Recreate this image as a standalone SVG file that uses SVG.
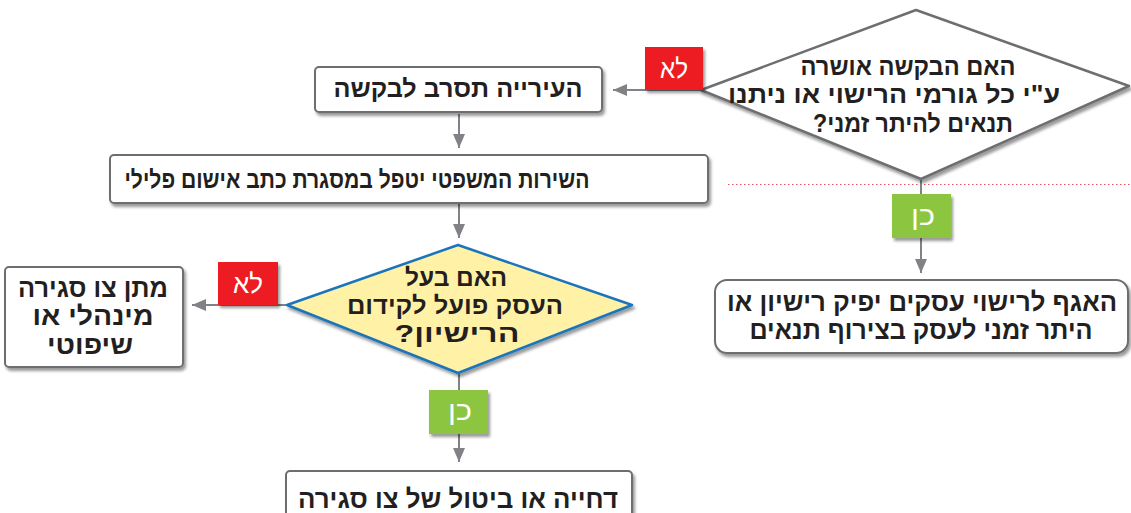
<svg xmlns="http://www.w3.org/2000/svg" width="1131" height="513" viewBox="0 0 1131 513">
<defs>
<filter id="sh" x="-10%" y="-10%" width="130%" height="150%">
<feDropShadow dx="2" dy="3" stdDeviation="1.6" flood-color="#000" flood-opacity="0.4"/>
</filter>
<marker id="arr" viewBox="0 0 14 12" refX="14" refY="6" markerWidth="14" markerHeight="12" markerUnits="userSpaceOnUse" orient="auto">
<path d="M0,0 L14,6 L0,12 z" fill="#808285"/>
</marker>
<style>
.box{fill:#fff;stroke:#6d6e71;stroke-width:2;}
.dia{fill:#fff;stroke:#6d6e71;stroke-width:2.5;stroke-linejoin:round;}
.ydia{fill:#fff2a6;stroke:#1b75bc;stroke-width:2.5;stroke-linejoin:round;}
.t{font-family:"Liberation Sans","DejaVu Sans",sans-serif;font-weight:bold;fill:#231f20;text-anchor:middle;font-size:25px;direction:rtl;}
.lt{font-family:"Liberation Sans","DejaVu Sans",sans-serif;fill:#fff;text-anchor:middle;font-size:27px;direction:rtl;}
.con{stroke:#808285;stroke-width:2;fill:none;marker-end:url(#arr);}
.red{fill:#ed1c24;}
.grn{fill:#8cc63f;}
</style>
</defs>
<line x1="728" y1="184.5" x2="1131" y2="184.5" stroke="#e2545c" stroke-width="1.2" stroke-dasharray="1.5,2.5"/>
<g id="connectors">
<line class="con" x1="701" y1="90" x2="613" y2="90"/>
<line class="con" x1="459" y1="114" x2="459" y2="148"/>
<line class="con" x1="459" y1="204" x2="459" y2="238"/>
<line class="con" x1="287" y1="305" x2="192" y2="305"/>
<line class="con" x1="459" y1="373" x2="459" y2="462"/>
<line class="con" x1="921" y1="179" x2="921" y2="273"/>
</g>
<g id="q1">
<polygon class="dia" filter="url(#sh)" points="916,10 1129,86 921,179 701,90"/>
<text class="t" x="908" y="75" textLength="215" lengthAdjust="spacingAndGlyphs">האם הבקשה אושרה</text>
<text class="t" x="894" y="103" textLength="332" lengthAdjust="spacingAndGlyphs">ע&quot;י כל גורמי הרישוי או ניתנו</text>
<text class="t" x="913" y="132" textLength="200" lengthAdjust="spacingAndGlyphs">תנאים להיתר זמני?</text>
</g>
<g id="refuse">
<rect class="box" filter="url(#sh)" x="315" y="67" width="287" height="45" rx="4"/>
<text class="t" x="458" y="97" textLength="249" lengthAdjust="spacingAndGlyphs">העירייה תסרב לבקשה</text>
</g>
<g id="legal">
<rect class="box" filter="url(#sh)" x="110" y="155" width="598" height="48" rx="4"/>
<text class="t" x="357" y="188" textLength="465" lengthAdjust="spacingAndGlyphs">השירות המשפטי יטפל במסגרת כתב אישום פלילי</text>
</g>
<g id="q2">
<polygon class="ydia" filter="url(#sh)" points="458,245 632,305 458,373 287,305"/>
<text class="t" x="456" y="286" textLength="102" lengthAdjust="spacingAndGlyphs" style="font-size:24px">האם בעל</text>
<text class="t" x="455" y="314" textLength="216" lengthAdjust="spacingAndGlyphs" style="font-size:24px">העסק פועל לקידום</text>
<text class="t" x="457" y="342" textLength="125" lengthAdjust="spacingAndGlyphs" style="font-size:24px">הרישיון?</text>
</g>
<g id="closure">
<rect class="box" filter="url(#sh)" x="5" y="267" width="178" height="100" rx="4"/>
<text class="t" x="93" y="297" textLength="150" lengthAdjust="spacingAndGlyphs" style="font-size:26px">מתן צו סגירה</text>
<text class="t" x="93" y="325" textLength="121" lengthAdjust="spacingAndGlyphs" style="font-size:26px">מינהלי או</text>
<text class="t" x="90" y="354" textLength="86" lengthAdjust="spacingAndGlyphs" style="font-size:26px">שיפוטי</text>
</g>
<g id="postpone">
<rect class="box" filter="url(#sh)" x="286" y="471" width="346" height="60" rx="4"/>
<text class="t" x="458" y="508" textLength="320" lengthAdjust="spacingAndGlyphs" style="font-size:26px">דחייה או ביטול של צו סגירה</text>
</g>
<g id="license">
<rect class="box" filter="url(#sh)" x="715" y="280" width="413" height="73" rx="12"/>
<text class="t" x="922" y="311" textLength="390" lengthAdjust="spacingAndGlyphs" style="font-size:26px">האגף לרישוי עסקים יפיק רישיון או</text>
<text class="t" x="921" y="339" textLength="343" lengthAdjust="spacingAndGlyphs" style="font-size:26px">היתר זמני לעסק בצירוף תנאים</text>
</g>
<g id="labels">
<rect class="red" filter="url(#sh)" x="645" y="47" width="58" height="43"/>
<text class="lt" x="674" y="78" textLength="28" lengthAdjust="spacingAndGlyphs">לא</text>
<rect class="red" filter="url(#sh)" x="218" y="262" width="60" height="43"/>
<text class="lt" x="248" y="293" textLength="30" lengthAdjust="spacingAndGlyphs">לא</text>
<rect class="grn" filter="url(#sh)" x="429" y="390" width="59" height="44"/>
<text class="lt" x="460" y="420" textLength="24" lengthAdjust="spacingAndGlyphs">כן</text>
<rect class="grn" filter="url(#sh)" x="892" y="194" width="59" height="44"/>
<text class="lt" x="923" y="225" textLength="24" lengthAdjust="spacingAndGlyphs">כן</text>
</g>
</svg>
